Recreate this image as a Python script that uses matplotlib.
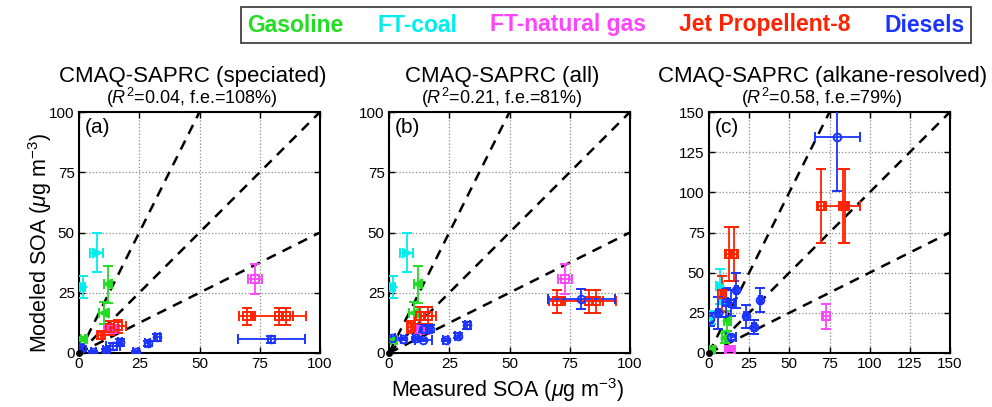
import matplotlib
matplotlib.use('Agg')
import matplotlib.pyplot as plt
from matplotlib.lines import Line2D
import numpy as np

plt.rcParams['font.family'] = ['Liberation Sans', 'DejaVu Sans']
plt.rcParams['mathtext.fontset'] = 'custom'
plt.rcParams['mathtext.rm'] = 'Liberation Sans'
plt.rcParams['mathtext.it'] = 'Liberation Sans:italic'

# fuel names and colours
fuels = ['Gasoline', 'FT-coal', 'FT-natural gas', 'Jet Propellent-8', 'Diesels']
colors = ['#22dd22', '#00eeee', '#ff44ff', '#ff2200', '#1a33ff']
markers = ['<', '>', 's', 's', 'o']

titles = ['CMAQ-SAPRC (speciated)', 'CMAQ-SAPRC (all)', 'CMAQ-SAPRC (alkane-resolved)']
subtitles = ['($R^2$=0.04, f.e.=108%)', '($R^2$=0.21, f.e.=81%)', '($R^2$=0.58, f.e.=79%)']
panel_labels = ['(a)', '(b)', '(c)']
axis_max = [100, 100, 150]

# ---- panel (a): speciated ----
a_gas_x = [11.9, 10.5, 1.5];  a_gas_y = [28.6, 16.6, 5.8]
a_gas_xe = [1.5, 2.0, 0.8];   a_gas_ye = [7.7, 4.4, 1.0]
a_coal_x = [7.3, 1.5];        a_coal_y = [41.7, 27.3]
a_coal_xe = [2.8, 1.0];       a_coal_ye = [8.0, 4.6]
a_ng_x = [73.0, 13.5];        a_ng_y = [30.7, 10.0]
a_ng_xe = [3.0, 3.0];         a_ng_ye = [6.4, 1.5]
a_jp_x = [9.0, 12.9, 16.3, 69.7, 83.0, 85.9]
a_jp_y = [7.3, 10.4, 11.0, 15.2, 15.2, 15.2]
a_jp_xe = [1.0, 1.5, 3.0, 3.4, 11.0, 3.0]
a_jp_ye = [1.5, 3.0, 2.5, 3.5, 3.5, 3.5]
a_ds_x = [1.1, 6.0, 11.0, 14.2, 17.0, 23.5, 28.5, 32.5, 79.8]
a_ds_y = [1.9, 0.4, 1.1, 2.8, 4.4, 0.4, 4.1, 6.5, 5.7]
a_ds_xe = [0.5, 1.0, 1.0, 3.0, 1.0, 1.0, 1.0, 1.0, 14.0]
a_ds_ye = [1.0, 0.5, 0.5, 1.5, 1.5, 0.5, 1.0, 1.5, 1.5]

# ---- panel (b): all ----
b_gas_x = [11.9, 10.5, 1.8];  b_gas_y = [28.6, 16.6, 5.4]
b_gas_xe = [1.5, 2.0, 0.8];   b_gas_ye = [7.7, 4.4, 1.0]
b_coal_x = [7.3, 1.5];        b_coal_y = [41.7, 27.3]
b_coal_xe = [2.8, 1.0];       b_coal_ye = [8.0, 4.6]
b_ng_x = [73.0, 12.9];        b_ng_y = [30.7, 9.4]
b_ng_xe = [3.0, 3.5];         b_ng_ye = [6.4, 1.0]
b_jp_x = [9.0, 12.9, 16.3, 69.7, 83.0, 85.9]
b_jp_y = [10.6, 15.5, 15.5, 21.4, 21.4, 21.4]
b_jp_xe = [1.0, 2.0, 3.0, 3.4, 11.0, 3.0]
b_jp_ye = [2.5, 3.5, 3.5, 4.6, 4.6, 4.6]
b_ds_x = [1.1, 6.0, 11.0, 14.2, 14.2, 17.0, 23.5, 28.5, 32.5, 79.8]
b_ds_y = [6.1, 5.9, 6.2, 5.3, 10.1, 10.1, 5.3, 7.2, 11.5, 22.4]
b_ds_xe = [1.5, 1.0, 1.0, 3.5, 1.0, 1.0, 1.0, 1.0, 1.0, 14.0]
b_ds_ye = [0.5, 0.5, 0.5, 0.5, 1.5, 1.5, 0.5, 1.0, 1.5, 4.2]

# ---- panel (c): alkane-resolved ----
c_gas_x = [11.0, 9.8, 1.5];   c_gas_y = [20.0, 9.3, 1.7]
c_gas_xe = [1.5, 2.0, 0.8];   c_gas_ye = [6.0, 3.0, 1.0]
c_coal_x = [6.9, 1.2];        c_coal_y = [41.4, 22.0]
c_coal_xe = [2.0, 1.0];       c_coal_ye = [11.0, 4.0]
c_ng_x = [73.0, 13.0];        c_ng_y = [22.8, 2.0]
c_ng_xe = [2.0, 3.0];         c_ng_ye = [7.8, 1.0]
c_jp_x = [8.3, 12.5, 15.6, 69.8, 83.3, 84.8]
c_jp_y = [36.8, 61.7, 61.7, 91.5, 91.5, 91.5]
c_jp_xe = [1.0, 2.0, 2.0, 2.0, 10.4, 1.5]
c_jp_ye = [11.0, 16.9, 16.9, 23.3, 23.3, 23.3]
c_ds_x = [0.6, 5.6, 10.4, 14.0, 17.0, 23.0, 28.0, 31.9, 13.5, 79.8]
c_ds_y = [21.0, 24.8, 31.7, 31.0, 39.0, 22.8, 16.1, 33.0, 9.9, 134.6]
c_ds_xe = [1.0, 1.0, 1.5, 1.5, 1.0, 1.0, 1.0, 1.0, 3.0, 14.0]
c_ds_ye = [4.0, 9.8, 9.0, 8.0, 11.0, 7.0, 4.5, 7.5, 1.5, 33.6]

panels = [
    [(a_gas_x, a_gas_y, a_gas_xe, a_gas_ye), (a_coal_x, a_coal_y, a_coal_xe, a_coal_ye),
     (a_ng_x, a_ng_y, a_ng_xe, a_ng_ye), (a_jp_x, a_jp_y, a_jp_xe, a_jp_ye),
     (a_ds_x, a_ds_y, a_ds_xe, a_ds_ye)],
    [(b_gas_x, b_gas_y, b_gas_xe, b_gas_ye), (b_coal_x, b_coal_y, b_coal_xe, b_coal_ye),
     (b_ng_x, b_ng_y, b_ng_xe, b_ng_ye), (b_jp_x, b_jp_y, b_jp_xe, b_jp_ye),
     (b_ds_x, b_ds_y, b_ds_xe, b_ds_ye)],
    [(c_gas_x, c_gas_y, c_gas_xe, c_gas_ye), (c_coal_x, c_coal_y, c_coal_xe, c_coal_ye),
     (c_ng_x, c_ng_y, c_ng_xe, c_ng_ye), (c_jp_x, c_jp_y, c_jp_xe, c_jp_ye),
     (c_ds_x, c_ds_y, c_ds_xe, c_ds_ye)],
]

# slopes of the 2:1, 1:1 and 1:2 reference lines
slopes = [2.0, 1.0, 0.5]

fig = plt.figure(figsize=(9.92, 4.07), dpi=100)
lefts = [79, 389, 709]
W, H = 241, 241
bottom_px = 407 - 353

for i in range(3):
    ax = fig.add_axes([lefts[i] / 992, bottom_px / 407, W / 992, H / 407])
    m = axis_max[i]
    ticks = np.arange(0, m + 1, 25)
    ax.set_xlim(0, m)
    ax.set_ylim(0, m)
    ax.set_xticks(ticks)
    ax.set_yticks(ticks)
    ax.grid(True, linestyle=':', color='#888888', linewidth=0.9)
    ax.set_axisbelow(True)
    ax.tick_params(direction='in', length=4, width=1, labelsize=11, pad=3,
                   top=True, right=True)
    for s in ax.spines.values():
        s.set_linewidth(1.5)

    xx = np.array([0, m])
    for k in slopes:
        ax.plot(xx, k * xx, linestyle=(0, (4, 3)), color='black', linewidth=1.8, zorder=2)

    for j, (x, y, xe, ye) in enumerate(panels[i]):
        filled = markers[j] in ['<', '>']
        ax.errorbar(x, y, xerr=xe, yerr=ye, fmt=markers[j], color=colors[j],
                    ecolor=colors[j], elinewidth=1.3, capsize=3.5, capthick=1.3,
                    markersize=6 if filled else 5.5,
                    markerfacecolor=colors[j] if filled else 'none',
                    markeredgewidth=1.4, zorder=3, clip_on=True)
    ax.plot([0], [0], marker='o', color='black', markersize=4, clip_on=False, zorder=4)

    ax.text(0.025, 0.975, panel_labels[i], transform=ax.transAxes, fontsize=15,
            ha='left', va='top')
    ax.text(0.47, 1.105, titles[i], transform=ax.transAxes, fontsize=16,
            ha='center', va='bottom')
    ax.text(0.47, 1.01, subtitles[i], transform=ax.transAxes, fontsize=13,
            ha='center', va='bottom')

fig.text(40 / 992, 1 - 243 / 407, r'Modeled SOA ($\mu$g m$^{-3}$)', rotation=90,
         fontsize=15.5, ha='center', va='center')
fig.text(508 / 992, 1 - 390 / 407, r'Measured SOA ($\mu$g m$^{-3}$)',
         fontsize=15.5, ha='center', va='center')

handles = [Line2D([], [], linestyle='none') for _ in fuels]
leg = fig.legend(handles, fuels, loc='center', bbox_to_anchor=(606 / 992, 1 - 25 / 407),
                 ncol=5, handlelength=0, handletextpad=0, columnspacing=1.45,
                 frameon=True, fancybox=False, edgecolor='black',
                 prop={'weight': 'bold', 'size': 16.5}, borderpad=0.3)
leg.get_frame().set_linewidth(1.2)
for t, c in zip(leg.get_texts(), colors):
    t.set_color(c)

fig.savefig('out.png', dpi=100)
